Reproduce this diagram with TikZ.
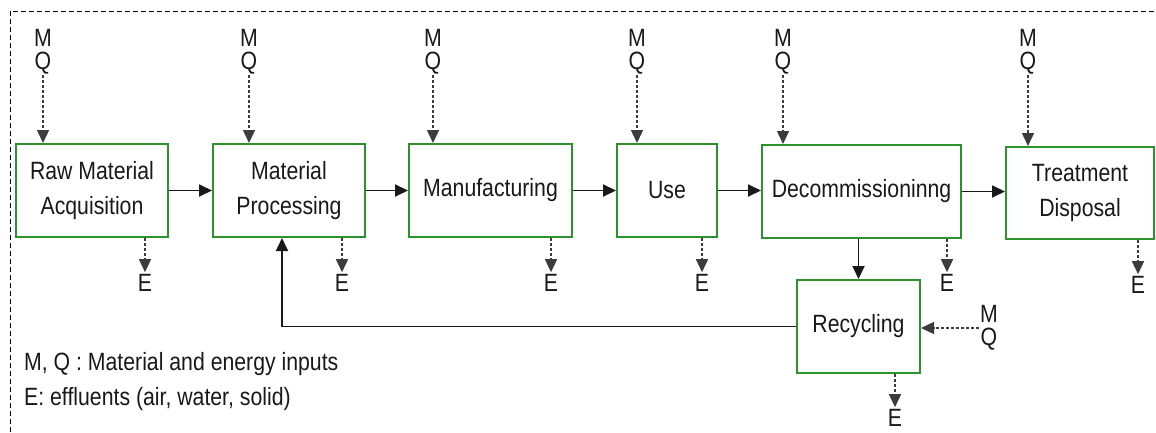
\documentclass[tikz,border=0pt]{standalone}
\usepackage{fontspec}
\setmainfont{Liberation Sans}[FakeStretch=0.85]
\usetikzlibrary{arrows.meta,calc}
\definecolor{boxgreen}{RGB}{45,145,45}
\definecolor{ink}{RGB}{25,25,25}
\begin{document}
\begin{tikzpicture}[x=1pt,y=-1pt,
  every node/.style={text=ink,font=\fontsize{25}{35}\selectfont},
  stage/.style={draw=boxgreen,line width=2pt,fill=white,inner sep=0pt,align=center},
  mqlab/.style={inner sep=1pt,align=center,font=\fontsize{25}{23}\selectfont},
  elab/.style={inner sep=2pt},
  flow/.style={draw=ink,line width=1.8pt,-{Triangle[length=13pt,width=12pt]}},
  aux/.style={draw=ink!85,line width=1.5pt,dash pattern=on 3pt off 2pt,-{Triangle[length=13pt,width=12pt]}},
  legend/.style={anchor=base west,inner sep=0pt}
]
\useasboundingbox (0,0) rectangle (1156,432);
% frame
\draw[line width=1pt,dash pattern=on 5pt off 3pt] (10,432) -- (10,11) -- (1156,11);

% stages
\node[stage,minimum width=152pt,minimum height=93pt] (rma) at (92,190.5) {Raw Material\\Acquisition};
\node[stage,minimum width=152pt,minimum height=93pt] (mp) at (289,190.5) {Material\\Processing};
\node[stage,minimum width=163pt,minimum height=93pt] (man) at (490.5,190.5) {Manufacturing};
\node[stage,minimum width=100pt,minimum height=93pt] (use) at (667,190.5) {Use};
\node[stage,minimum width=199pt,minimum height=93pt] (dec) at (861.5,191.5) {Decommissioninng};
\node[stage,minimum width=148pt,minimum height=92pt] (tr) at (1080,193) {Treatment\\Disposal};
\node[stage,minimum width=123pt,minimum height=93pt] (rec) at (858.5,326.5) {Recycling};

% main flow
\draw[flow] (rma.east) -- (mp.west);
\draw[flow] (mp.east) -- (man.west);
\draw[flow] (man.east) -- (use.west);
\draw[flow] (use.east) -- (use.east -| dec.west);
\draw[flow] (dec.east) -- (dec.east -| tr.west);
\draw[flow] (dec.south -| rec.north) -- (rec.north);
\draw[flow] (rec.west) -| ([xshift=-7pt]mp.south);

% inputs M Q
\node[mqlab] (mq1) at (43,51.5) {M\\Q};
\node[mqlab] (mq2) at (249,51.5) {M\\Q};
\node[mqlab] (mq3) at (433,51.5) {M\\Q};
\node[mqlab] (mq4) at (637,51.5) {M\\Q};
\node[mqlab] (mq5) at (783,51.5) {M\\Q};
\node[mqlab] (mq6) at (1028,51.5) {M\\Q};
\node[mqlab] (mq7) at (989,328) {M\\Q};
\draw[aux] (mq1.south) -- (mq1.south |- rma.north);
\draw[aux] (mq2.south) -- (mq2.south |- mp.north);
\draw[aux] (mq3.south) -- (mq3.south |- man.north);
\draw[aux] (mq4.south) -- (mq4.south |- use.north);
\draw[aux] (mq5.south) -- (mq5.south |- dec.north);
\draw[aux] (mq6.south) -- (mq6.south |- tr.north);
\draw[aux] (mq7.west) -- (mq7.west -| rec.east);

% effluents E
\node[elab] (e1) at (145,283) {E};
\node[elab] (e2) at (342,283) {E};
\node[elab] (e3) at (551,283) {E};
\node[elab] (e4) at (702,283) {E};
\node[elab] (e5) at (947,283) {E};
\node[elab] (e6) at (1138,285) {E};
\node[elab] (e7) at (895,418) {E};
\draw[aux] (e1.north |- rma.south) -- (e1.north);
\draw[aux] (e2.north |- mp.south) -- (e2.north);
\draw[aux] (e3.north |- man.south) -- (e3.north);
\draw[aux] (e4.north |- use.south) -- (e4.north);
\draw[aux] (e5.north |- dec.south) -- (e5.north);
\draw[aux] (e6.north |- tr.south) -- (e6.north);
\draw[aux] (e7.north |- rec.south) -- (e7.north);

% legend
\node[legend] (l1) at (24,370) {M, Q : Material and energy inputs};
\node[legend] (l2) at (24,405) {E: effluents (air, water, solid)};
\end{tikzpicture}
\end{document}
